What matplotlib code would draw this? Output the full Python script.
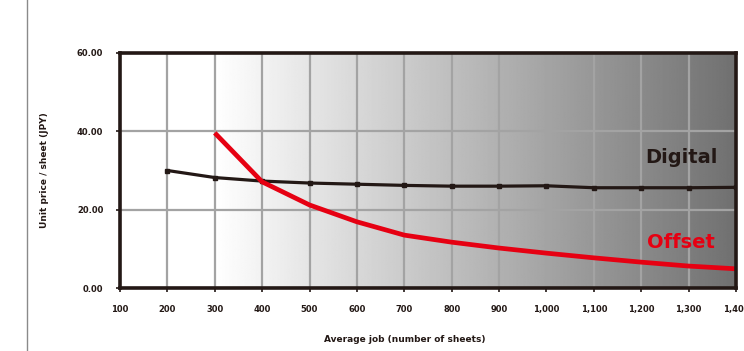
import numpy as np
import matplotlib
matplotlib.use("Agg")
import matplotlib.pyplot as plt
from matplotlib.lines import Line2D

# ---- data ----
x_ticks = [100, 200, 300, 400, 500, 600, 700, 800, 900, 1000, 1100, 1200, 1300, 1400]
x_labels = ["100", "200", "300", "400", "500", "600", "700", "800", "900",
            "1,000", "1,100", "1,200", "1,300", "1,400"]
y_ticks = [0, 20, 40, 60]
y_labels = ["0.00", "20.00", "40.00", "60.00"]

digital_x = [200, 300, 400, 500, 600, 700, 800, 900, 1000, 1100, 1200, 1300, 1400]
digital_y = [30.0, 28.2, 27.3, 26.8, 26.5, 26.2, 26.0, 26.0, 26.1, 25.6, 25.6, 25.6, 25.7]

offset_x = [300, 400, 500, 600, 700, 800, 900, 1000, 1100, 1200, 1300, 1400]
offset_y = [39.6, 27.1, 21.2, 16.9, 13.5, 11.7, 10.2, 8.9, 7.7, 6.6, 5.6, 4.9]

BLACK = "#231815"
RED = "#e60012"

fig = plt.figure(figsize=(7.44, 3.51), dpi=100)
ax = fig.add_axes([120/744, 63/351, 616/744, 235/351])
ax.set_xlim(100, 1400)
ax.set_ylim(0, 60)

# background gradient (white -> grey from 300 to 1400)
xs = np.linspace(100, 1400, 600)
t = np.clip((xs - 300) / (1400 - 300), 0, 1)
vals = 1.0 - 0.56 * t
img = np.tile(vals, (2, 1))
ax.imshow(img, cmap="gray", vmin=0, vmax=1, extent=[100, 1400, 0, 60],
          aspect="auto", zorder=0, interpolation="bilinear")

ax.set_xticks(x_ticks)
ax.set_xticklabels(x_labels)
ax.set_yticks(y_ticks)
ax.set_yticklabels(y_labels)
ax.grid(True, color="#a3a3a3", linewidth=1.6, zorder=1)
ax.set_axisbelow(False)
for s in ax.spines.values():
    s.set_linewidth(2.6)
    s.set_color(BLACK)
    s.set_zorder(5)
ax.tick_params(axis="both", length=3, width=1.2, color=BLACK,
               labelsize=6, pad=9, direction="out")
for lab in ax.get_xticklabels() + ax.get_yticklabels():
    lab.set_fontweight("bold")
    lab.set_color(BLACK)

ax.plot(digital_x, digital_y, color=BLACK, lw=2.3, zorder=3,
        marker="s", markersize=2.5, solid_capstyle="butt")
ax.plot(offset_x, offset_y, color=RED, lw=3.4, zorder=4, solid_capstyle="butt")

ax.text(1284, 33.4, "Digital", color=BLACK, fontsize=14, fontweight="bold",
        ha="center", va="center", zorder=6)
ax.text(1284, 11.7, "Offset", color=RED, fontsize=14, fontweight="bold",
        ha="center", va="center", zorder=6)

ax.set_ylabel("Unit price / sheet (JPY)", fontsize=6.5, fontweight="bold", color=BLACK)
ax.yaxis.set_label_coords(-0.115, 0.5)
ax.set_xlabel("Average job (number of sheets)", fontsize=6.5, fontweight="bold", color=BLACK)
ax.xaxis.set_label_coords(0.463, -0.2)

# thin vertical line at left of figure
fig.add_artist(Line2D([27/744, 27/744], [0, 1], color="#8a8a8a", lw=1.0))

fig.savefig("out.png", dpi=100)
